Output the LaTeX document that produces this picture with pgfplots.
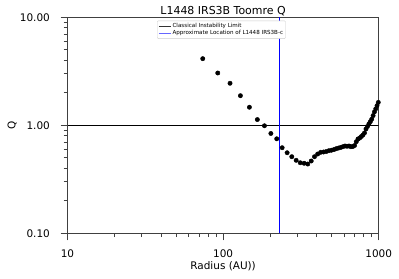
\documentclass[border=0pt]{standalone}
\usepackage{pgfplots}
\pgfplotsset{compat=1.18}
\usepackage{fontspec}
\setmainfont{DejaVu Sans}
\definecolor{spine}{gray}{0.25}
\begin{document}
\begin{tikzpicture}
\useasboundingbox (-67.5bp,-45.7bp) rectangle (331.5bp,233.3bp);
\begin{axis}[
  at={(0,0)}, anchor=south west,
  scale only axis, width=311.2bp, height=216bp,
  xmode=log, ymode=log,
  xmin=10, xmax=1000, ymin=0.1, ymax=10,
  xtick={10,100,1000}, xticklabels={10,100,1000},
  ytick={0.1,1,10}, yticklabels={0.10,1.00,10.00},
  xtick pos=bottom, ytick pos=left, tick align=outside,
  major tick length=7bp, minor tick length=3.8bp,
  major tick style={spine, line width=0.9pt},
  minor tick style={spine, line width=0.8pt},
  minor xtick={20,30,40,50,60,70,80,90,200,300,400,500,600,700,800,900},
  minor ytick={0.2,0.3,0.4,0.5,0.6,0.7,0.8,0.9,2,3,4,5,6,7,8,9},
  axis line style={spine, line width=0.7pt},
  /pgf/number format/assume math mode=true,
  tick label style={font=\fontsize{10.5}{12}\selectfont},
  xticklabel style={anchor=base, inner sep=0pt},
  yticklabel style={anchor=east, inner sep=0pt},
  xticklabel shift=0pt, yticklabel shift=0pt,
  every x tick label/.append style={yshift=-17bp},
  every y tick label/.append style={xshift=-10.5bp},
  title={L1448 IRS3B Toomre Q},
  title style={at={(axis description cs:0.5,1)}, anchor=base, yshift=-3bp, font=\fontsize{11}{13}\selectfont, inner sep=0pt},
  xlabel={Radius (AU))},
  xlabel style={at={(axis description cs:0.5,0)}, anchor=base, yshift=-36bp, font=\fontsize{10.5}{12}\selectfont, inner sep=0pt},
  ylabel={Q},
  ylabel style={at={(axis description cs:-0.178,0.5)}, anchor=center, font=\fontsize{10.5}{12}\selectfont, inner sep=0pt},
  legend style={at={(axis description cs:0,1)}, anchor=north west, xshift=89.5bp, yshift=-3.4bp,
    font=\fontsize{5.6}{6.2}\selectfont, draw=black!20, rounded corners=1pt, inner sep=1.2bp,
    row sep=-0.9bp, nodes={inner sep=1.2bp}},
  legend cell align=left,
  legend image code/.code={\draw[#1] (0bp,0bp) -- (12bp,0bp);},
]
\addlegendimage{black!80, line width=0.8pt}
\addlegendentry{Classical Instability Limit}
\addlegendimage{color=blue!60, line width=1pt}
\addlegendentry{Approximate Location of L1448 IRS3B-c}
\addplot[forget plot, color=black, line width=0.8pt] coordinates {(10,1) (1000,1)};
\addplot[forget plot, color=blue, line width=1.1pt] coordinates {(229,0.1) (229,10)};
\addplot[forget plot, only marks, mark=*, mark size=2.2pt, black] coordinates {
(74.0,4.14) (92.4,3.05) (110.8,2.45) (129.2,1.88) (147.6,1.47)
(166.0,1.13) (184.4,0.99) (202.8,0.84) (221.2,0.75) (239.6,0.62)
(258.0,0.557) (276.4,0.512) (294.8,0.474) (313.2,0.450) (331.6,0.445)
(350.0,0.438) (368.4,0.467) (386.8,0.512) (405.2,0.542) (423.6,0.562)
(442.0,0.566) (460.4,0.572) (478.8,0.582) (497.2,0.588) (515.6,0.596)
(534.0,0.608) (552.4,0.616) (570.8,0.624) (589.2,0.634) (607.6,0.643)
(626.0,0.640) (644.4,0.643) (662.8,0.634) (681.2,0.636) (699.6,0.650)
(718.0,0.705) (736.4,0.747) (754.8,0.763) (773.2,0.787) (791.6,0.813)
(810.0,0.849) (828.4,0.925) (846.8,0.975) (865.2,1.03) (883.6,1.08)
(902.0,1.14) (920.4,1.23) (938.8,1.33) (957.2,1.42) (975.6,1.52)
(994.0,1.63)
};
\end{axis}
\end{tikzpicture}
\end{document}
